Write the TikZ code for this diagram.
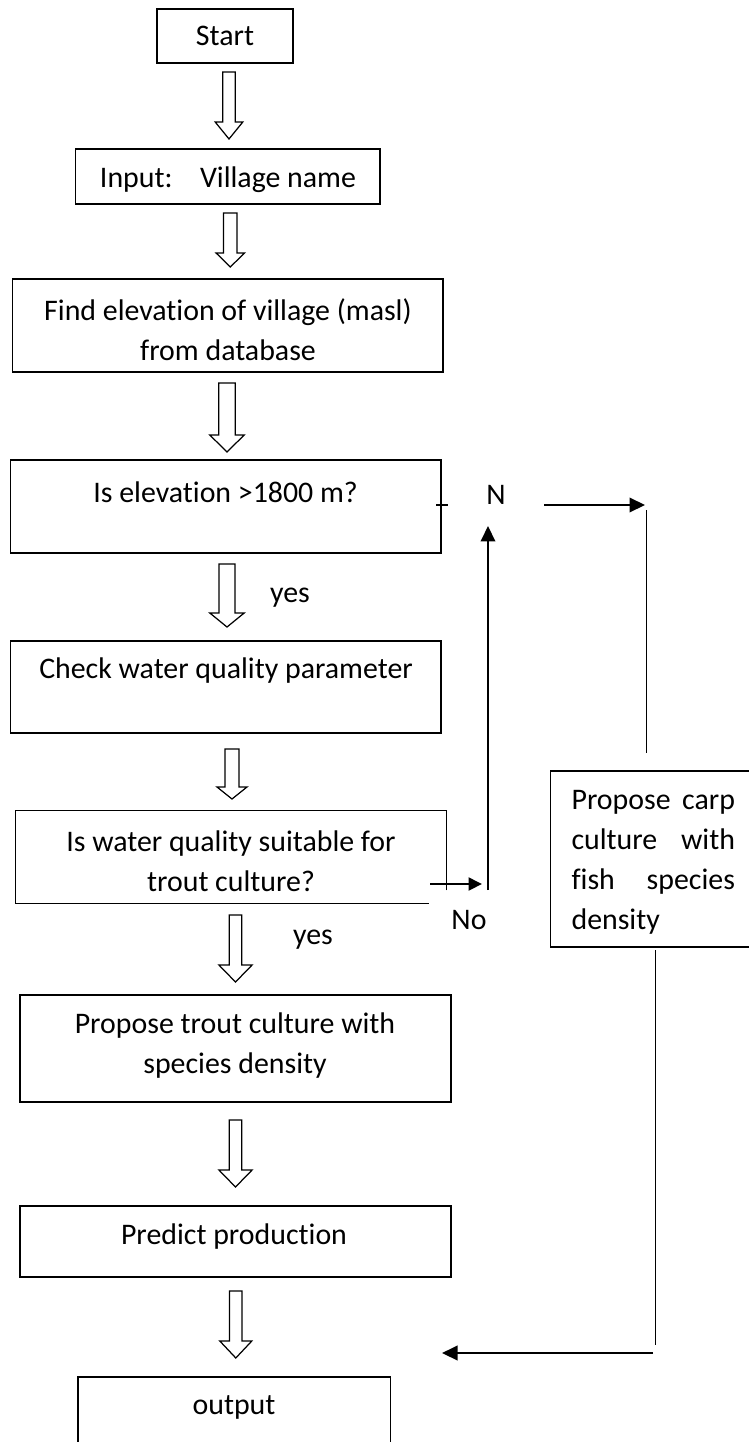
\documentclass[tikz,border=0pt]{standalone}
\usepackage{fontspec}
\setmainfont{Carlito}[Ligatures=NoCommon]
\usetikzlibrary{arrows.meta}
\tikzset{
  box/.style={draw, line width=0.85pt, inner sep=0pt},
  txt/.style={inner sep=0pt, align=center, font=\fontsize{17}{22.8}\selectfont},
  hollow/.style={draw, line width=0.7pt, line join=miter},
  plain/.style={line width=0.75pt},
  flow/.style={line width=1.15pt, -{Triangle[length=0.31cm, width=0.29cm]}}
}
\begin{document}
\begin{tikzpicture}[x=0.02cm, y=-0.02cm]
    \useasboundingbox (0,0) rectangle (749,1442);
    \clip (0,0) rectangle (749,1442);

    % Boxes
    \node[box, minimum width=2.72cm, minimum height=1.08cm] at (225,36) (start) {};
    \node[box, minimum width=6.09cm, minimum height=1.10cm] at (227.75,176.5) (input) {};
    \node[box, minimum width=8.61cm, minimum height=1.86cm] at (227.7,325.5) (find) {};
    \node[box, minimum width=8.61cm, minimum height=1.86cm] at (225.75,506.5) (elev) {};
    \node[box, minimum width=8.61cm, minimum height=1.84cm] at (225.75,687) (check) {};
    \node[inner sep=0pt, minimum width=8.61cm, minimum height=1.84cm] at (231.15,857) (suit) {};
    \node[box, minimum width=8.62cm, minimum height=2.14cm] at (235.5,1048.5) (trout) {};
    \node[box, minimum width=8.62cm, minimum height=1.42cm] at (235.5,1241.5) (predict) {};
    \node[box, minimum width=6.25cm, minimum height=1.80cm] at (234.3,1422) (output) {};
    \node[box, minimum width=4.39cm, minimum height=3.52cm] at (660.3,859) (carp) {};
    \draw[box] ([yshift=0.26cm]suit.south east) -- (suit.north east) -- (suit.north west)
        -- (suit.south west) -- ([xshift=-0.35cm]suit.south east);

    % Texts
    \node[txt] at (225,36) (startt) {Start};
    \node[txt] at (228,180) (inputt) {Input:\hspace{0.92em}Village name};
    \node[txt] at (228,330) (findt) {Find elevation of village (masl)\\from database};
    \node[txt] at (225.6,492) (elevt) {Is elevation >1800 m?};
    \node[txt] at (226,671) (checkt) {Check water quality parameter};
    \node[txt] at (231,861.5) (suitt) {Is water quality suitable for\\trout culture?};
    \node[txt] at (235,1045.5) (troutt) {Propose trout culture with\\species density};
    \node[txt] at (234,1237) (predictt) {Predict production};
    \node[txt] at (234,1407) (outputt) {output};
    \node[txt, text width=3.27cm, align=left] at (653.3,862.5) (carpt)
        {Propose\hfill carp\\culture\hfill with\\fish\hfill species\\density};

    % Labels
    \node[txt] at (290,598) (yes1) {yes};
    \node[txt] at (313,940) (yes2) {yes};
    \node[txt] at (496,495) (nlab) {N};
    \node[txt] at (469,920) (nolab) {No};

    % Hollow arrows
    \foreach \x/\t/\n/\e/\s/\h in {229/72/122/139/6.2/13.8, 230.3/213/253/267/6.7/14.2,
        227/383/435/452/8.3/17.2, 227/564/613/627/8/17.2, 232/749/787/799/7/15,
        235.5/915/965/982/6.2/16.6, 235.5/1120/1170/1187/6.2/16.6, 235.8/1291/1341/1358/6.2/16}
        \draw[hollow] (\x-\s,\t) -- (\x+\s,\t) -- (\x+\s,\n) -- (\x+\h,\n) -- (\x,\e)
            -- (\x-\h,\n) -- (\x-\s,\n) -- cycle;

    % Free ends
    \coordinate (nfrom) at (544,505);
    \coordinate (nto) at (645,505);
    \coordinate (rtop) at (646.6,510);
    \coordinate (rbot) at (646.6,753);
    \coordinate (nofrom) at (430,884);
    \coordinate (noto) at (482,884);
    \coordinate (upfrom) at (488,890);
    \coordinate (upto) at (488,526);
    \coordinate (ctop) at (655.7,950);
    \coordinate (cbot) at (655.7,1345);
    \coordinate (backfrom) at (653,1353);
    \coordinate (backto) at (442,1353);

    % Arrows and lines
    \draw[plain] ([xshift=-0.11cm,yshift=0.03cm]elev.east) -- ++(0.23cm,0);
    \draw[flow] (nfrom) -- (nto);
    \draw[plain] (rtop) -- (rbot);
    \draw[flow, -{Triangle[length=0.27cm, width=0.26cm]}] (nofrom) -- (noto);
    \draw[flow] (upfrom) -- (upto);
    \draw[plain] (ctop) -- (cbot);
    \draw[flow] (backfrom) -- (backto);
\end{tikzpicture}
\end{document}
